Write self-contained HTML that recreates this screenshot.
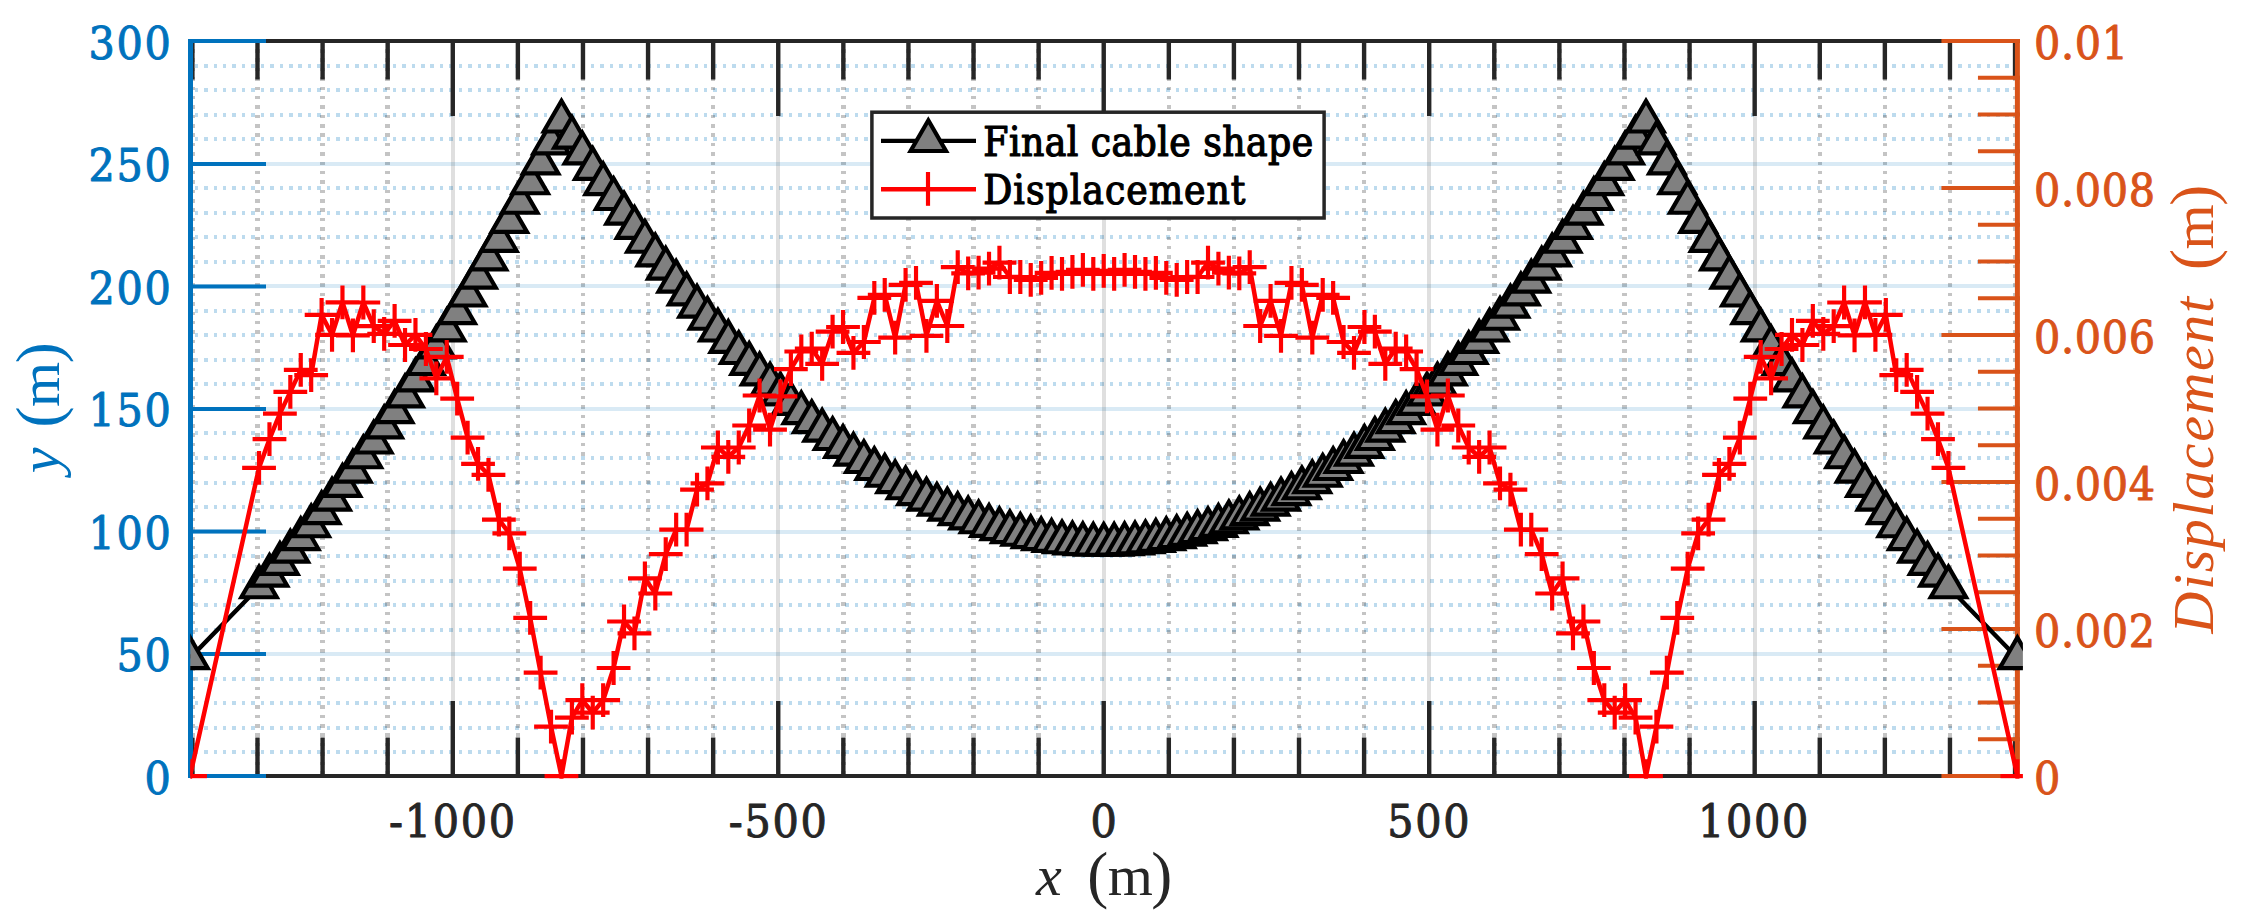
<!DOCTYPE html>
<html lang="en"><head><meta charset="utf-8"><title>Final cable shape and displacement</title>
<style>html,body{margin:0;padding:0;background:#fff}svg{display:block}</style></head>
<body>
<svg width="2241" height="922" viewBox="0 0 2241 922">
<rect width="2241" height="922" fill="#fff"/>
<g id="grid" fill="none" shape-rendering="crispEdges">
<path d="M194.70 752.06H2015.05M194.70 727.56H2015.05M194.70 703.05H2015.05M194.70 678.55H2015.05M194.70 629.54H2015.05M194.70 605.03H2015.05M194.70 580.52H2015.05M194.70 556.02H2015.05M194.70 507.01H2015.05M194.70 482.50H2015.05M194.70 458.00H2015.05M194.70 433.49H2015.05M194.70 384.48H2015.05M194.70 359.97H2015.05M194.70 335.47H2015.05M194.70 310.96H2015.05M194.70 261.95H2015.05M194.70 237.45H2015.05M194.70 212.94H2015.05M194.70 188.43H2015.05M194.70 139.42H2015.05M194.70 114.92H2015.05M194.70 90.41H2015.05M194.70 65.91H2015.05" stroke="#0072BD" stroke-opacity="0.26" stroke-width="4" stroke-dasharray="3.5 5.931"/>
<path d="M192.40 49.1V776.07M257.49 49.1V776.07M322.59 49.1V776.07M387.68 49.1V776.07M517.87 49.1V776.07M582.97 49.1V776.07M648.06 49.1V776.07M713.16 49.1V776.07M843.35 49.1V776.07M908.44 49.1V776.07M973.54 49.1V776.07M1038.63 49.1V776.07M1168.82 49.1V776.07M1233.91 49.1V776.07M1299.01 49.1V776.07M1364.10 49.1V776.07M1494.29 49.1V776.07M1559.39 49.1V776.07M1624.48 49.1V776.07M1689.58 49.1V776.07M1819.77 49.1V776.07M1884.86 49.1V776.07M1949.96 49.1V776.07M2015.05 49.1V776.07" stroke="#262626" stroke-opacity="0.27" stroke-width="4.5" stroke-dasharray="3.5 5.875"/>
<path d="M192.40 654.04H2015.05M192.40 531.51H2015.05M192.40 408.99H2015.05M192.40 286.46H2015.05M192.40 163.93H2015.05" stroke="#0072BD" stroke-opacity="0.15" stroke-width="4"/>
<path d="M452.78 40.90V776.07M778.25 40.90V776.07M1103.72 40.90V776.07M1429.20 40.90V776.07M1754.67 40.90V776.07" stroke="#262626" stroke-opacity="0.15" stroke-width="4"/>
</g>
<g id="axes" fill="none">
<path d="M192.40 776.07v-38.5M192.40 40.90v38.5M257.49 776.07v-38.5M257.49 40.90v38.5M322.59 776.07v-38.5M322.59 40.90v38.5M387.68 776.07v-38.5M387.68 40.90v38.5M452.78 776.07v-75M452.78 40.90v75M517.87 776.07v-38.5M517.87 40.90v38.5M582.97 776.07v-38.5M582.97 40.90v38.5M648.06 776.07v-38.5M648.06 40.90v38.5M713.16 776.07v-38.5M713.16 40.90v38.5M778.25 776.07v-75M778.25 40.90v75M843.35 776.07v-38.5M843.35 40.90v38.5M908.44 776.07v-38.5M908.44 40.90v38.5M973.54 776.07v-38.5M973.54 40.90v38.5M1038.63 776.07v-38.5M1038.63 40.90v38.5M1103.72 776.07v-75M1103.72 40.90v75M1168.82 776.07v-38.5M1168.82 40.90v38.5M1233.91 776.07v-38.5M1233.91 40.90v38.5M1299.01 776.07v-38.5M1299.01 40.90v38.5M1364.10 776.07v-38.5M1364.10 40.90v38.5M1429.20 776.07v-75M1429.20 40.90v75M1494.29 776.07v-38.5M1494.29 40.90v38.5M1559.39 776.07v-38.5M1559.39 40.90v38.5M1624.48 776.07v-38.5M1624.48 40.90v38.5M1689.58 776.07v-38.5M1689.58 40.90v38.5M1754.67 776.07v-75M1754.67 40.90v75M1819.77 776.07v-38.5M1819.77 40.90v38.5M1884.86 776.07v-38.5M1884.86 40.90v38.5M1949.96 776.07v-38.5M1949.96 40.90v38.5M2015.05 776.07v-38.5M2015.05 40.90v38.5" stroke="#262626" stroke-width="4.4"/>
<path d="M188.00 40.9H2019.95M188.00 776.07H2019.95" stroke="#262626" stroke-width="4"/>
<path d="M190.5 38.9V776.6700000000001" stroke="#0072BD" stroke-width="5"/>
<path d="M188 776.07H266.00M188 654.04H266.00M188 531.51H266.00M188 408.99H266.00M188 286.46H266.00M188 163.93H266.00M188 40.90H266.00" stroke="#0072BD" stroke-width="4"/>
<path d="M2017.4 38.9V778.07" stroke="#D95319" stroke-width="5"/>
<path d="M2019.9 776.07H1941.45M2019.9 739.31H1977.95M2019.9 702.55H1977.95M2019.9 665.79H1977.95M2019.9 629.04H1941.45M2019.9 592.28H1977.95M2019.9 555.52H1977.95M2019.9 518.76H1977.95M2019.9 482.00H1941.45M2019.9 445.24H1977.95M2019.9 408.49H1977.95M2019.9 371.73H1977.95M2019.9 334.97H1941.45M2019.9 298.21H1977.95M2019.9 261.45H1977.95M2019.9 224.69H1977.95M2019.9 187.93H1941.45M2019.9 151.18H1977.95M2019.9 114.42H1977.95M2019.9 77.66H1977.95M2019.9 40.90H1941.45" stroke="#D95319" stroke-width="4"/>
</g>
<clipPath id="cp"><rect x="190.3" y="30" width="1832.6" height="748.8"/></clipPath>
<g id="data" clip-path="url(#cp)">
<polyline points="190.06,657.95 259.04,587.06 269.47,575.49 279.90,563.60 290.33,551.39 300.76,538.86 311.18,526.02 321.61,512.86 332.04,499.38 342.47,485.58 352.90,471.47 363.33,457.04 373.75,442.30 384.18,427.23 394.61,411.85 405.04,396.15 415.47,380.14 425.89,363.81 436.32,347.16 446.75,330.19 457.18,312.91 467.61,295.30 478.04,277.39 488.46,259.15 498.89,240.60 509.32,221.73 519.75,202.54 530.18,183.04 540.60,163.21 551.03,143.08 561.46,121.28 571.89,137.40 582.32,153.21 592.75,168.71 603.17,183.89 613.60,198.77 624.03,213.32 634.46,227.57 644.89,241.50 655.31,255.12 665.74,268.43 676.17,281.42 686.60,294.10 697.03,306.47 707.45,318.52 717.88,330.26 728.31,341.69 738.74,352.80 749.17,363.60 759.60,374.09 770.02,384.27 780.45,394.13 790.88,403.68 801.31,412.91 811.74,421.84 822.16,430.45 832.59,438.74 843.02,446.73 853.45,454.40 863.88,461.75 874.31,468.80 884.73,475.53 895.16,481.95 905.59,488.05 916.02,493.85 926.45,499.32 936.87,504.49 947.30,509.34 957.73,513.88 968.16,518.11 978.59,522.02 989.02,525.62 999.44,528.91 1009.87,531.89 1020.30,534.55 1030.73,536.89 1041.16,538.93 1051.58,540.65 1062.01,542.06 1072.44,543.16 1082.87,543.94 1093.30,544.41 1103.72,544.56 1114.15,544.41 1124.58,543.94 1135.01,543.16 1145.44,542.06 1155.87,540.65 1166.29,538.93 1176.72,536.89 1187.15,534.55 1197.58,531.89 1208.01,528.91 1218.43,525.62 1228.86,522.02 1239.29,518.11 1249.72,513.88 1260.15,509.34 1270.58,504.49 1281.00,499.32 1291.43,493.85 1301.86,488.05 1312.29,481.95 1322.72,475.53 1333.14,468.80 1343.57,461.75 1354.00,454.40 1364.43,446.73 1374.86,438.74 1385.29,430.45 1395.71,421.84 1406.14,412.91 1416.57,403.68 1427.00,394.13 1437.43,384.27 1447.85,374.09 1458.28,363.60 1468.71,352.80 1479.14,341.69 1489.57,330.26 1500.00,318.52 1510.42,306.47 1520.85,294.10 1531.28,281.42 1541.71,268.43 1552.14,255.12 1562.56,241.50 1572.99,227.57 1583.42,213.32 1593.85,198.77 1604.28,183.89 1614.70,168.71 1625.13,153.21 1635.56,137.40 1645.99,121.28 1656.42,143.08 1666.85,163.21 1677.27,183.04 1687.70,202.54 1698.13,221.73 1708.56,240.60 1718.99,259.15 1729.41,277.39 1739.84,295.30 1750.27,312.91 1760.70,330.19 1771.13,347.16 1781.56,363.81 1791.98,380.14 1802.41,396.15 1812.84,411.85 1823.27,427.23 1833.70,442.30 1844.12,457.04 1854.55,471.47 1864.98,485.58 1875.41,499.38 1885.84,512.86 1896.27,526.02 1906.69,538.86 1917.12,551.39 1927.55,563.60 1937.98,575.49 1948.41,587.06 2017.39,657.95" fill="none" stroke="#000" stroke-width="4.4" stroke-linejoin="round"/>
<g fill="#808080" stroke="#000" stroke-width="4.17">
<path d="M190.06 637.51l17.7 30.66h-35.4z"/>
<path d="M259.04 566.62l17.7 30.66h-35.4z"/>
<path d="M269.47 555.05l17.7 30.66h-35.4z"/>
<path d="M279.90 543.16l17.7 30.66h-35.4z"/>
<path d="M290.33 530.95l17.7 30.66h-35.4z"/>
<path d="M300.76 518.42l17.7 30.66h-35.4z"/>
<path d="M311.18 505.58l17.7 30.66h-35.4z"/>
<path d="M321.61 492.42l17.7 30.66h-35.4z"/>
<path d="M332.04 478.94l17.7 30.66h-35.4z"/>
<path d="M342.47 465.14l17.7 30.66h-35.4z"/>
<path d="M352.90 451.03l17.7 30.66h-35.4z"/>
<path d="M363.33 436.60l17.7 30.66h-35.4z"/>
<path d="M373.75 421.86l17.7 30.66h-35.4z"/>
<path d="M384.18 406.79l17.7 30.66h-35.4z"/>
<path d="M394.61 391.41l17.7 30.66h-35.4z"/>
<path d="M405.04 375.71l17.7 30.66h-35.4z"/>
<path d="M415.47 359.70l17.7 30.66h-35.4z"/>
<path d="M425.89 343.37l17.7 30.66h-35.4z"/>
<path d="M436.32 326.72l17.7 30.66h-35.4z"/>
<path d="M446.75 309.75l17.7 30.66h-35.4z"/>
<path d="M457.18 292.47l17.7 30.66h-35.4z"/>
<path d="M467.61 274.86l17.7 30.66h-35.4z"/>
<path d="M478.04 256.95l17.7 30.66h-35.4z"/>
<path d="M488.46 238.71l17.7 30.66h-35.4z"/>
<path d="M498.89 220.16l17.7 30.66h-35.4z"/>
<path d="M509.32 201.29l17.7 30.66h-35.4z"/>
<path d="M519.75 182.10l17.7 30.66h-35.4z"/>
<path d="M530.18 162.60l17.7 30.66h-35.4z"/>
<path d="M540.60 142.77l17.7 30.66h-35.4z"/>
<path d="M551.03 122.64l17.7 30.66h-35.4z"/>
<path d="M561.46 100.84l17.7 30.66h-35.4z"/>
<path d="M571.89 116.96l17.7 30.66h-35.4z"/>
<path d="M582.32 132.77l17.7 30.66h-35.4z"/>
<path d="M592.75 148.27l17.7 30.66h-35.4z"/>
<path d="M603.17 163.45l17.7 30.66h-35.4z"/>
<path d="M613.60 178.33l17.7 30.66h-35.4z"/>
<path d="M624.03 192.88l17.7 30.66h-35.4z"/>
<path d="M634.46 207.13l17.7 30.66h-35.4z"/>
<path d="M644.89 221.06l17.7 30.66h-35.4z"/>
<path d="M655.31 234.68l17.7 30.66h-35.4z"/>
<path d="M665.74 247.99l17.7 30.66h-35.4z"/>
<path d="M676.17 260.98l17.7 30.66h-35.4z"/>
<path d="M686.60 273.66l17.7 30.66h-35.4z"/>
<path d="M697.03 286.03l17.7 30.66h-35.4z"/>
<path d="M707.45 298.08l17.7 30.66h-35.4z"/>
<path d="M717.88 309.82l17.7 30.66h-35.4z"/>
<path d="M728.31 321.25l17.7 30.66h-35.4z"/>
<path d="M738.74 332.36l17.7 30.66h-35.4z"/>
<path d="M749.17 343.16l17.7 30.66h-35.4z"/>
<path d="M759.60 353.65l17.7 30.66h-35.4z"/>
<path d="M770.02 363.83l17.7 30.66h-35.4z"/>
<path d="M780.45 373.69l17.7 30.66h-35.4z"/>
<path d="M790.88 383.24l17.7 30.66h-35.4z"/>
<path d="M801.31 392.47l17.7 30.66h-35.4z"/>
<path d="M811.74 401.40l17.7 30.66h-35.4z"/>
<path d="M822.16 410.01l17.7 30.66h-35.4z"/>
<path d="M832.59 418.30l17.7 30.66h-35.4z"/>
<path d="M843.02 426.29l17.7 30.66h-35.4z"/>
<path d="M853.45 433.96l17.7 30.66h-35.4z"/>
<path d="M863.88 441.31l17.7 30.66h-35.4z"/>
<path d="M874.31 448.36l17.7 30.66h-35.4z"/>
<path d="M884.73 455.09l17.7 30.66h-35.4z"/>
<path d="M895.16 461.51l17.7 30.66h-35.4z"/>
<path d="M905.59 467.61l17.7 30.66h-35.4z"/>
<path d="M916.02 473.41l17.7 30.66h-35.4z"/>
<path d="M926.45 478.88l17.7 30.66h-35.4z"/>
<path d="M936.87 484.05l17.7 30.66h-35.4z"/>
<path d="M947.30 488.90l17.7 30.66h-35.4z"/>
<path d="M957.73 493.44l17.7 30.66h-35.4z"/>
<path d="M968.16 497.67l17.7 30.66h-35.4z"/>
<path d="M978.59 501.58l17.7 30.66h-35.4z"/>
<path d="M989.02 505.18l17.7 30.66h-35.4z"/>
<path d="M999.44 508.47l17.7 30.66h-35.4z"/>
<path d="M1009.87 511.45l17.7 30.66h-35.4z"/>
<path d="M1020.30 514.11l17.7 30.66h-35.4z"/>
<path d="M1030.73 516.45l17.7 30.66h-35.4z"/>
<path d="M1041.16 518.49l17.7 30.66h-35.4z"/>
<path d="M1051.58 520.21l17.7 30.66h-35.4z"/>
<path d="M1062.01 521.62l17.7 30.66h-35.4z"/>
<path d="M1072.44 522.72l17.7 30.66h-35.4z"/>
<path d="M1082.87 523.50l17.7 30.66h-35.4z"/>
<path d="M1093.30 523.97l17.7 30.66h-35.4z"/>
<path d="M1103.72 524.12l17.7 30.66h-35.4z"/>
<path d="M1114.15 523.97l17.7 30.66h-35.4z"/>
<path d="M1124.58 523.50l17.7 30.66h-35.4z"/>
<path d="M1135.01 522.72l17.7 30.66h-35.4z"/>
<path d="M1145.44 521.62l17.7 30.66h-35.4z"/>
<path d="M1155.87 520.21l17.7 30.66h-35.4z"/>
<path d="M1166.29 518.49l17.7 30.66h-35.4z"/>
<path d="M1176.72 516.45l17.7 30.66h-35.4z"/>
<path d="M1187.15 514.11l17.7 30.66h-35.4z"/>
<path d="M1197.58 511.45l17.7 30.66h-35.4z"/>
<path d="M1208.01 508.47l17.7 30.66h-35.4z"/>
<path d="M1218.43 505.18l17.7 30.66h-35.4z"/>
<path d="M1228.86 501.58l17.7 30.66h-35.4z"/>
<path d="M1239.29 497.67l17.7 30.66h-35.4z"/>
<path d="M1249.72 493.44l17.7 30.66h-35.4z"/>
<path d="M1260.15 488.90l17.7 30.66h-35.4z"/>
<path d="M1270.58 484.05l17.7 30.66h-35.4z"/>
<path d="M1281.00 478.88l17.7 30.66h-35.4z"/>
<path d="M1291.43 473.41l17.7 30.66h-35.4z"/>
<path d="M1301.86 467.61l17.7 30.66h-35.4z"/>
<path d="M1312.29 461.51l17.7 30.66h-35.4z"/>
<path d="M1322.72 455.09l17.7 30.66h-35.4z"/>
<path d="M1333.14 448.36l17.7 30.66h-35.4z"/>
<path d="M1343.57 441.31l17.7 30.66h-35.4z"/>
<path d="M1354.00 433.96l17.7 30.66h-35.4z"/>
<path d="M1364.43 426.29l17.7 30.66h-35.4z"/>
<path d="M1374.86 418.30l17.7 30.66h-35.4z"/>
<path d="M1385.29 410.01l17.7 30.66h-35.4z"/>
<path d="M1395.71 401.40l17.7 30.66h-35.4z"/>
<path d="M1406.14 392.47l17.7 30.66h-35.4z"/>
<path d="M1416.57 383.24l17.7 30.66h-35.4z"/>
<path d="M1427.00 373.69l17.7 30.66h-35.4z"/>
<path d="M1437.43 363.83l17.7 30.66h-35.4z"/>
<path d="M1447.85 353.65l17.7 30.66h-35.4z"/>
<path d="M1458.28 343.16l17.7 30.66h-35.4z"/>
<path d="M1468.71 332.36l17.7 30.66h-35.4z"/>
<path d="M1479.14 321.25l17.7 30.66h-35.4z"/>
<path d="M1489.57 309.82l17.7 30.66h-35.4z"/>
<path d="M1500.00 298.08l17.7 30.66h-35.4z"/>
<path d="M1510.42 286.03l17.7 30.66h-35.4z"/>
<path d="M1520.85 273.66l17.7 30.66h-35.4z"/>
<path d="M1531.28 260.98l17.7 30.66h-35.4z"/>
<path d="M1541.71 247.99l17.7 30.66h-35.4z"/>
<path d="M1552.14 234.68l17.7 30.66h-35.4z"/>
<path d="M1562.56 221.06l17.7 30.66h-35.4z"/>
<path d="M1572.99 207.13l17.7 30.66h-35.4z"/>
<path d="M1583.42 192.88l17.7 30.66h-35.4z"/>
<path d="M1593.85 178.33l17.7 30.66h-35.4z"/>
<path d="M1604.28 163.45l17.7 30.66h-35.4z"/>
<path d="M1614.70 148.27l17.7 30.66h-35.4z"/>
<path d="M1625.13 132.77l17.7 30.66h-35.4z"/>
<path d="M1635.56 116.96l17.7 30.66h-35.4z"/>
<path d="M1645.99 100.84l17.7 30.66h-35.4z"/>
<path d="M1656.42 122.64l17.7 30.66h-35.4z"/>
<path d="M1666.85 142.77l17.7 30.66h-35.4z"/>
<path d="M1677.27 162.60l17.7 30.66h-35.4z"/>
<path d="M1687.70 182.10l17.7 30.66h-35.4z"/>
<path d="M1698.13 201.29l17.7 30.66h-35.4z"/>
<path d="M1708.56 220.16l17.7 30.66h-35.4z"/>
<path d="M1718.99 238.71l17.7 30.66h-35.4z"/>
<path d="M1729.41 256.95l17.7 30.66h-35.4z"/>
<path d="M1739.84 274.86l17.7 30.66h-35.4z"/>
<path d="M1750.27 292.47l17.7 30.66h-35.4z"/>
<path d="M1760.70 309.75l17.7 30.66h-35.4z"/>
<path d="M1771.13 326.72l17.7 30.66h-35.4z"/>
<path d="M1781.56 343.37l17.7 30.66h-35.4z"/>
<path d="M1791.98 359.70l17.7 30.66h-35.4z"/>
<path d="M1802.41 375.71l17.7 30.66h-35.4z"/>
<path d="M1812.84 391.41l17.7 30.66h-35.4z"/>
<path d="M1823.27 406.79l17.7 30.66h-35.4z"/>
<path d="M1833.70 421.86l17.7 30.66h-35.4z"/>
<path d="M1844.12 436.60l17.7 30.66h-35.4z"/>
<path d="M1854.55 451.03l17.7 30.66h-35.4z"/>
<path d="M1864.98 465.14l17.7 30.66h-35.4z"/>
<path d="M1875.41 478.94l17.7 30.66h-35.4z"/>
<path d="M1885.84 492.42l17.7 30.66h-35.4z"/>
<path d="M1896.27 505.58l17.7 30.66h-35.4z"/>
<path d="M1906.69 518.42l17.7 30.66h-35.4z"/>
<path d="M1917.12 530.95l17.7 30.66h-35.4z"/>
<path d="M1927.55 543.16l17.7 30.66h-35.4z"/>
<path d="M1937.98 555.05l17.7 30.66h-35.4z"/>
<path d="M1948.41 566.62l17.7 30.66h-35.4z"/>
<path d="M2017.39 637.51l17.7 30.66h-35.4z"/>
</g>
<polyline points="190.06,776.07 259.04,467.80 269.47,439.20 279.90,413.60 290.33,391.90 300.76,369.90 311.18,375.10 321.61,314.90 332.04,334.80 342.47,302.30 352.90,335.30 363.33,302.50 373.75,326.10 384.18,333.80 394.61,320.90 405.04,345.00 415.47,334.90 425.89,349.00 436.32,378.30 446.75,356.80 457.18,398.60 467.61,437.60 478.04,463.90 488.46,474.80 498.89,519.60 509.32,533.40 519.75,568.60 530.18,617.90 540.60,672.70 551.03,726.60 561.46,776.07 571.89,717.70 582.32,700.20 592.75,712.70 603.17,700.20 613.60,668.00 624.03,621.50 634.46,633.40 644.89,578.30 655.31,593.50 665.74,554.10 676.17,529.70 686.60,529.60 697.03,489.60 707.45,483.30 717.88,447.50 728.31,456.80 738.74,447.50 749.17,425.50 759.60,395.50 770.02,429.70 780.45,396.40 790.88,369.10 801.31,351.50 811.74,348.60 822.16,363.80 832.59,331.60 843.02,327.00 853.45,352.90 863.88,342.00 874.31,297.90 884.73,294.80 895.16,337.60 905.59,284.80 916.02,282.90 926.45,335.80 936.87,300.80 947.30,326.00 957.73,267.10 968.16,273.40 978.59,272.60 989.02,268.70 999.44,262.70 1009.87,277.00 1020.30,277.00 1030.73,279.90 1041.16,277.90 1051.58,272.80 1062.01,273.90 1072.44,271.90 1082.87,269.90 1093.30,273.90 1103.72,270.90 1114.15,273.90 1124.58,269.90 1135.01,271.90 1145.44,273.90 1155.87,272.80 1166.29,277.90 1176.72,279.90 1187.15,277.00 1197.58,277.00 1208.01,262.70 1218.43,268.70 1228.86,272.60 1239.29,273.40 1249.72,267.10 1260.15,326.00 1270.58,300.80 1281.00,335.80 1291.43,282.90 1301.86,284.80 1312.29,337.60 1322.72,294.80 1333.14,297.90 1343.57,342.00 1354.00,352.90 1364.43,327.00 1374.86,331.60 1385.29,363.80 1395.71,348.60 1406.14,351.50 1416.57,369.10 1427.00,396.40 1437.43,429.70 1447.85,395.50 1458.28,425.50 1468.71,447.50 1479.14,456.80 1489.57,447.50 1500.00,483.30 1510.42,489.60 1520.85,529.60 1531.28,529.70 1541.71,554.10 1552.14,593.50 1562.56,578.30 1572.99,633.40 1583.42,621.50 1593.85,668.00 1604.28,700.20 1614.70,712.70 1625.13,700.20 1635.56,717.70 1645.99,776.07 1656.42,726.60 1666.85,672.70 1677.27,617.90 1687.70,568.60 1698.13,533.40 1708.56,519.60 1718.99,474.80 1729.41,463.90 1739.84,437.60 1750.27,398.60 1760.70,356.80 1771.13,378.30 1781.56,349.00 1791.98,334.90 1802.41,345.00 1812.84,320.90 1823.27,333.80 1833.70,326.10 1844.12,302.50 1854.55,335.30 1864.98,302.30 1875.41,334.80 1885.84,314.90 1896.27,375.10 1906.69,369.90 1917.12,391.90 1927.55,413.60 1937.98,439.20 1948.41,467.80 2017.39,776.07" fill="none" stroke="#f00" stroke-width="4.5" stroke-linejoin="round"/>
<path d="M173.16 776.07h33.8M190.06 759.17v33.8M242.14 467.80h33.8M259.04 450.90v33.8M252.57 439.20h33.8M269.47 422.30v33.8M263.00 413.60h33.8M279.90 396.70v33.8M273.43 391.90h33.8M290.33 375.00v33.8M283.86 369.90h33.8M300.76 353.00v33.8M294.28 375.10h33.8M311.18 358.20v33.8M304.71 314.90h33.8M321.61 298.00v33.8M315.14 334.80h33.8M332.04 317.90v33.8M325.57 302.30h33.8M342.47 285.40v33.8M336.00 335.30h33.8M352.90 318.40v33.8M346.43 302.50h33.8M363.33 285.60v33.8M356.85 326.10h33.8M373.75 309.20v33.8M367.28 333.80h33.8M384.18 316.90v33.8M377.71 320.90h33.8M394.61 304.00v33.8M388.14 345.00h33.8M405.04 328.10v33.8M398.57 334.90h33.8M415.47 318.00v33.8M408.99 349.00h33.8M425.89 332.10v33.8M419.42 378.30h33.8M436.32 361.40v33.8M429.85 356.80h33.8M446.75 339.90v33.8M440.28 398.60h33.8M457.18 381.70v33.8M450.71 437.60h33.8M467.61 420.70v33.8M461.14 463.90h33.8M478.04 447.00v33.8M471.56 474.80h33.8M488.46 457.90v33.8M481.99 519.60h33.8M498.89 502.70v33.8M492.42 533.40h33.8M509.32 516.50v33.8M502.85 568.60h33.8M519.75 551.70v33.8M513.28 617.90h33.8M530.18 601.00v33.8M523.70 672.70h33.8M540.60 655.80v33.8M534.13 726.60h33.8M551.03 709.70v33.8M544.56 776.07h33.8M561.46 759.17v33.8M554.99 717.70h33.8M571.89 700.80v33.8M565.42 700.20h33.8M582.32 683.30v33.8M575.85 712.70h33.8M592.75 695.80v33.8M586.27 700.20h33.8M603.17 683.30v33.8M596.70 668.00h33.8M613.60 651.10v33.8M607.13 621.50h33.8M624.03 604.60v33.8M617.56 633.40h33.8M634.46 616.50v33.8M627.99 578.30h33.8M644.89 561.40v33.8M638.41 593.50h33.8M655.31 576.60v33.8M648.84 554.10h33.8M665.74 537.20v33.8M659.27 529.70h33.8M676.17 512.80v33.8M669.70 529.60h33.8M686.60 512.70v33.8M680.13 489.60h33.8M697.03 472.70v33.8M690.55 483.30h33.8M707.45 466.40v33.8M700.98 447.50h33.8M717.88 430.60v33.8M711.41 456.80h33.8M728.31 439.90v33.8M721.84 447.50h33.8M738.74 430.60v33.8M732.27 425.50h33.8M749.17 408.60v33.8M742.70 395.50h33.8M759.60 378.60v33.8M753.12 429.70h33.8M770.02 412.80v33.8M763.55 396.40h33.8M780.45 379.50v33.8M773.98 369.10h33.8M790.88 352.20v33.8M784.41 351.50h33.8M801.31 334.60v33.8M794.84 348.60h33.8M811.74 331.70v33.8M805.26 363.80h33.8M822.16 346.90v33.8M815.69 331.60h33.8M832.59 314.70v33.8M826.12 327.00h33.8M843.02 310.10v33.8M836.55 352.90h33.8M853.45 336.00v33.8M846.98 342.00h33.8M863.88 325.10v33.8M857.41 297.90h33.8M874.31 281.00v33.8M867.83 294.80h33.8M884.73 277.90v33.8M878.26 337.60h33.8M895.16 320.70v33.8M888.69 284.80h33.8M905.59 267.90v33.8M899.12 282.90h33.8M916.02 266.00v33.8M909.55 335.80h33.8M926.45 318.90v33.8M919.97 300.80h33.8M936.87 283.90v33.8M930.40 326.00h33.8M947.30 309.10v33.8M940.83 267.10h33.8M957.73 250.20v33.8M951.26 273.40h33.8M968.16 256.50v33.8M961.69 272.60h33.8M978.59 255.70v33.8M972.12 268.70h33.8M989.02 251.80v33.8M982.54 262.70h33.8M999.44 245.80v33.8M992.97 277.00h33.8M1009.87 260.10v33.8M1003.40 277.00h33.8M1020.30 260.10v33.8M1013.83 279.90h33.8M1030.73 263.00v33.8M1024.26 277.90h33.8M1041.16 261.00v33.8M1034.68 272.80h33.8M1051.58 255.90v33.8M1045.11 273.90h33.8M1062.01 257.00v33.8M1055.54 271.90h33.8M1072.44 255.00v33.8M1065.97 269.90h33.8M1082.87 253.00v33.8M1076.40 273.90h33.8M1093.30 257.00v33.8M1086.82 270.90h33.8M1103.72 254.00v33.8M1097.25 273.90h33.8M1114.15 257.00v33.8M1107.68 269.90h33.8M1124.58 253.00v33.8M1118.11 271.90h33.8M1135.01 255.00v33.8M1128.54 273.90h33.8M1145.44 257.00v33.8M1138.97 272.80h33.8M1155.87 255.90v33.8M1149.39 277.90h33.8M1166.29 261.00v33.8M1159.82 279.90h33.8M1176.72 263.00v33.8M1170.25 277.00h33.8M1187.15 260.10v33.8M1180.68 277.00h33.8M1197.58 260.10v33.8M1191.11 262.70h33.8M1208.01 245.80v33.8M1201.53 268.70h33.8M1218.43 251.80v33.8M1211.96 272.60h33.8M1228.86 255.70v33.8M1222.39 273.40h33.8M1239.29 256.50v33.8M1232.82 267.10h33.8M1249.72 250.20v33.8M1243.25 326.00h33.8M1260.15 309.10v33.8M1253.68 300.80h33.8M1270.58 283.90v33.8M1264.10 335.80h33.8M1281.00 318.90v33.8M1274.53 282.90h33.8M1291.43 266.00v33.8M1284.96 284.80h33.8M1301.86 267.90v33.8M1295.39 337.60h33.8M1312.29 320.70v33.8M1305.82 294.80h33.8M1322.72 277.90v33.8M1316.24 297.90h33.8M1333.14 281.00v33.8M1326.67 342.00h33.8M1343.57 325.10v33.8M1337.10 352.90h33.8M1354.00 336.00v33.8M1347.53 327.00h33.8M1364.43 310.10v33.8M1357.96 331.60h33.8M1374.86 314.70v33.8M1368.39 363.80h33.8M1385.29 346.90v33.8M1378.81 348.60h33.8M1395.71 331.70v33.8M1389.24 351.50h33.8M1406.14 334.60v33.8M1399.67 369.10h33.8M1416.57 352.20v33.8M1410.10 396.40h33.8M1427.00 379.50v33.8M1420.53 429.70h33.8M1437.43 412.80v33.8M1430.95 395.50h33.8M1447.85 378.60v33.8M1441.38 425.50h33.8M1458.28 408.60v33.8M1451.81 447.50h33.8M1468.71 430.60v33.8M1462.24 456.80h33.8M1479.14 439.90v33.8M1472.67 447.50h33.8M1489.57 430.60v33.8M1483.10 483.30h33.8M1500.00 466.40v33.8M1493.52 489.60h33.8M1510.42 472.70v33.8M1503.95 529.60h33.8M1520.85 512.70v33.8M1514.38 529.70h33.8M1531.28 512.80v33.8M1524.81 554.10h33.8M1541.71 537.20v33.8M1535.24 593.50h33.8M1552.14 576.60v33.8M1545.66 578.30h33.8M1562.56 561.40v33.8M1556.09 633.40h33.8M1572.99 616.50v33.8M1566.52 621.50h33.8M1583.42 604.60v33.8M1576.95 668.00h33.8M1593.85 651.10v33.8M1587.38 700.20h33.8M1604.28 683.30v33.8M1597.80 712.70h33.8M1614.70 695.80v33.8M1608.23 700.20h33.8M1625.13 683.30v33.8M1618.66 717.70h33.8M1635.56 700.80v33.8M1629.09 776.07h33.8M1645.99 759.17v33.8M1639.52 726.60h33.8M1656.42 709.70v33.8M1649.95 672.70h33.8M1666.85 655.80v33.8M1660.37 617.90h33.8M1677.27 601.00v33.8M1670.80 568.60h33.8M1687.70 551.70v33.8M1681.23 533.40h33.8M1698.13 516.50v33.8M1691.66 519.60h33.8M1708.56 502.70v33.8M1702.09 474.80h33.8M1718.99 457.90v33.8M1712.51 463.90h33.8M1729.41 447.00v33.8M1722.94 437.60h33.8M1739.84 420.70v33.8M1733.37 398.60h33.8M1750.27 381.70v33.8M1743.80 356.80h33.8M1760.70 339.90v33.8M1754.23 378.30h33.8M1771.13 361.40v33.8M1764.66 349.00h33.8M1781.56 332.10v33.8M1775.08 334.90h33.8M1791.98 318.00v33.8M1785.51 345.00h33.8M1802.41 328.10v33.8M1795.94 320.90h33.8M1812.84 304.00v33.8M1806.37 333.80h33.8M1823.27 316.90v33.8M1816.80 326.10h33.8M1833.70 309.20v33.8M1827.22 302.50h33.8M1844.12 285.60v33.8M1837.65 335.30h33.8M1854.55 318.40v33.8M1848.08 302.30h33.8M1864.98 285.40v33.8M1858.51 334.80h33.8M1875.41 317.90v33.8M1868.94 314.90h33.8M1885.84 298.00v33.8M1879.37 375.10h33.8M1896.27 358.20v33.8M1889.79 369.90h33.8M1906.69 353.00v33.8M1900.22 391.90h33.8M1917.12 375.00v33.8M1910.65 413.60h33.8M1927.55 396.70v33.8M1921.08 439.20h33.8M1937.98 422.30v33.8M1931.51 467.80h33.8M1948.41 450.90v33.8M2000.49 776.07h33.8M2017.39 759.17v33.8" fill="none" stroke="#f00" stroke-width="4.17"/>
</g>
<g id="legend">
<rect x="871.9" y="112.2" width="452.2" height="105.8" fill="#fff" stroke="#262626" stroke-width="3.5"/>
<path d="M881 140.9H976" stroke="#000" stroke-width="4.2"/>
<path d="M928.30 120.30l17.7 30.66h-35.4z" fill="#808080" stroke="#000" stroke-width="4.17"/>
<path d="M881 189.2H976" stroke="#f00" stroke-width="4.6"/>
<path d="M928 172V205.8" stroke="#f00" stroke-width="4.17"/>
</g>
<g id="ticklabels" font-family="'DejaVu Serif', 'Liberation Serif', serif" font-size="44.0" letter-spacing="1.8" stroke-width="1.0" stroke-linejoin="round">
<g fill="#0072BD" stroke="#0072BD" text-anchor="end">
<text transform="translate(172.5 794.0) scale(0.94 1)">0</text>
<text transform="translate(172.5 671.4) scale(0.94 1)">50</text>
<text transform="translate(172.5 548.9) scale(0.94 1)">100</text>
<text transform="translate(172.5 426.4) scale(0.94 1)">150</text>
<text transform="translate(172.5 303.9) scale(0.94 1)">200</text>
<text transform="translate(172.5 181.3) scale(0.94 1)">250</text>
<text transform="translate(172.5 58.8) scale(0.94 1)">300</text>
</g>
<g fill="#D95319" stroke="#D95319" letter-spacing="0.7">
<text transform="translate(2034.0 794.0) scale(0.94 1)">0</text>
<text transform="translate(2034.0 646.9) scale(0.94 1)">0.002</text>
<text transform="translate(2034.0 499.9) scale(0.94 1)">0.004</text>
<text transform="translate(2034.0 352.9) scale(0.94 1)">0.006</text>
<text transform="translate(2034.0 205.8) scale(0.94 1)">0.008</text>
<text transform="translate(2034.0 58.8) scale(0.94 1)">0.01</text>
</g>
<g fill="#262626" stroke="#262626" text-anchor="middle">
<text transform="translate(452.8 836.9) scale(0.94 1)">-1000</text>
<text transform="translate(778.6 836.9) scale(0.94 1)">-500</text>
<text transform="translate(1104.6 836.9) scale(0.94 1)">0</text>
<text transform="translate(1429.2 836.9) scale(0.94 1)">500</text>
<text transform="translate(1754.1 836.9) scale(0.94 1)">1000</text>
</g>
</g>
<g id="legendtext" font-family="'DejaVu Serif', 'Liberation Serif', serif" font-stretch="condensed" font-size="40.3" letter-spacing="0.45" fill="#000" stroke="#000" stroke-width="1.2" stroke-linejoin="round">
<text x="983.3" y="156.2" textLength="330.3" lengthAdjust="spacingAndGlyphs">Final cable shape</text>
<text x="983.3" y="204.2" letter-spacing="1" textLength="263.1" lengthAdjust="spacingAndGlyphs">Displacement</text>
</g>
<g id="xlabel" font-family="'Liberation Serif', serif" font-size="58" fill="#262626"><text x="1036" y="894.7"><tspan font-style="italic" letter-spacing="0.0">x</tspan> <tspan dx="11.0" font-size="63" dy="1">(</tspan><tspan dy="-1" dx="-0.5">m</tspan><tspan font-size="63" dy="1" dx="-1.5">)</tspan></text></g>
<g id="ylabel" font-family="'Liberation Serif', serif" font-size="58" fill="#0072BD" transform="translate(59.2 473.2) rotate(-90)"><text x="0" y="0"><tspan font-style="italic" letter-spacing="0">y</tspan> <tspan dx="5.5" font-size="63" dy="1">(</tspan><tspan dy="-1" dx="-0.5">m</tspan><tspan font-size="63" dy="1" dx="-1.5">)</tspan></text></g>
<g id="y2label" font-family="'Liberation Serif', serif" font-size="58" fill="#D95319" transform="translate(2213.2 633.5) rotate(-90)"><text x="0" y="0"><tspan font-style="italic" letter-spacing="1.6">Displacement</tspan> <tspan dx="11.0" font-size="63" dy="1">(</tspan><tspan dy="-1" dx="-0.5">m</tspan><tspan font-size="63" dy="1" dx="-1.5">)</tspan></text></g>
</svg>
</body></html>
